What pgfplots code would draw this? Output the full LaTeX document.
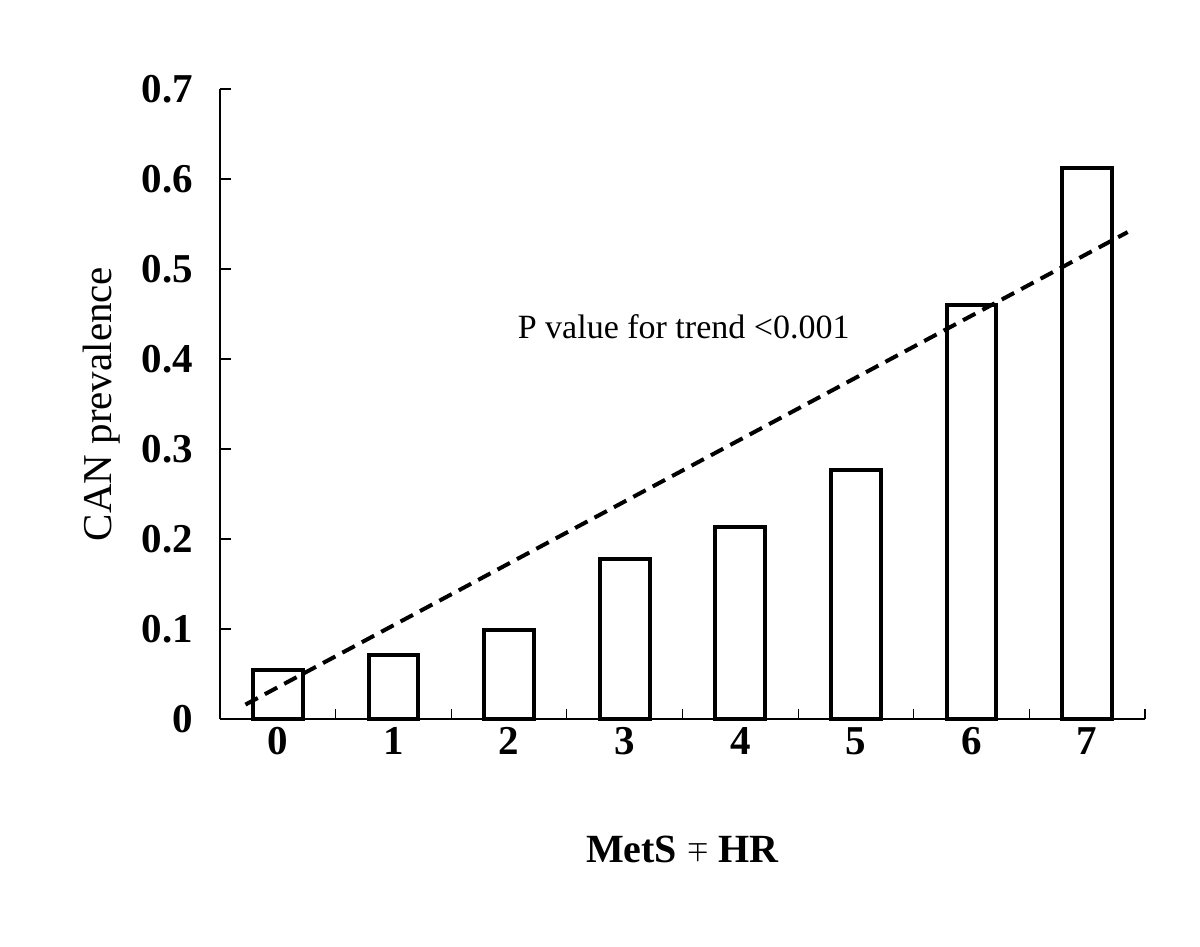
\documentclass[border=0pt]{standalone}
\usepackage{amsmath,amssymb,bm}
\usepackage{pgfplots}
\pgfplotsset{compat=1.18}
\usepackage{fontspec}
\setmainfont{Liberation Serif}

\begin{document}
\begin{tikzpicture}
\begin{axis}[
    at={(110pt,114pt)}, anchor=south west,
    scale only axis,
    width=462.5pt, height=315pt,
    xmin=-0.5, xmax=7.5,
    ymin=0, ymax=0.7,
    axis x line=bottom, axis y line=left,
    axis line style={-, line width=0.6pt},
    xtick={0,...,7},
    major x tick style={draw=none},
    minor xtick={0.5,1.5,...,7.5},
    minor tick length=5pt,
    ytick={0,0.1,...,0.7},
    major tick length=5.5pt,
    tick align=inside,
    tick style={black, line width=0.6pt},
    /pgf/number format/assume math mode=true,
    ticklabel style={font=\fontsize{20.5}{24}\selectfont\bfseries},
    yticklabel style={xshift=-10pt},
    xticklabel style={yshift=-4pt, text height=10pt, text depth=0pt},
    xlabel={\textbf{MetS \raisebox{3pt}{\fontsize{13}{13}\selectfont$\bm{\mp}$} HR}},
    xlabel style={font=\fontsize{20}{24}\selectfont, yshift=-34pt},
    ylabel={CAN prevalence},
    ylabel style={font=\fontsize{20.5}{24}\selectfont, yshift=4pt},
    clip=false,
]
\addplot[ybar, bar width=0.43, fill=white, draw=black, line width=2pt]
    coordinates {(0,0.054)(1,0.071)(2,0.099)(3,0.178)(4,0.213)(5,0.277)(6,0.460)(7,0.612)};
\addplot[black, line width=2pt, dash pattern=on 7pt off 4pt]
    coordinates {(-0.28,0.016)(7.35,0.541)};
\node[font=\fontsize{17}{20}\selectfont] at (axis cs:3.51,0.436) {P value for trend <0.001};
\end{axis}
\pgfresetboundingbox
\useasboundingbox (0,0) rectangle (600pt,473.5pt);
\end{tikzpicture}
\end{document}
